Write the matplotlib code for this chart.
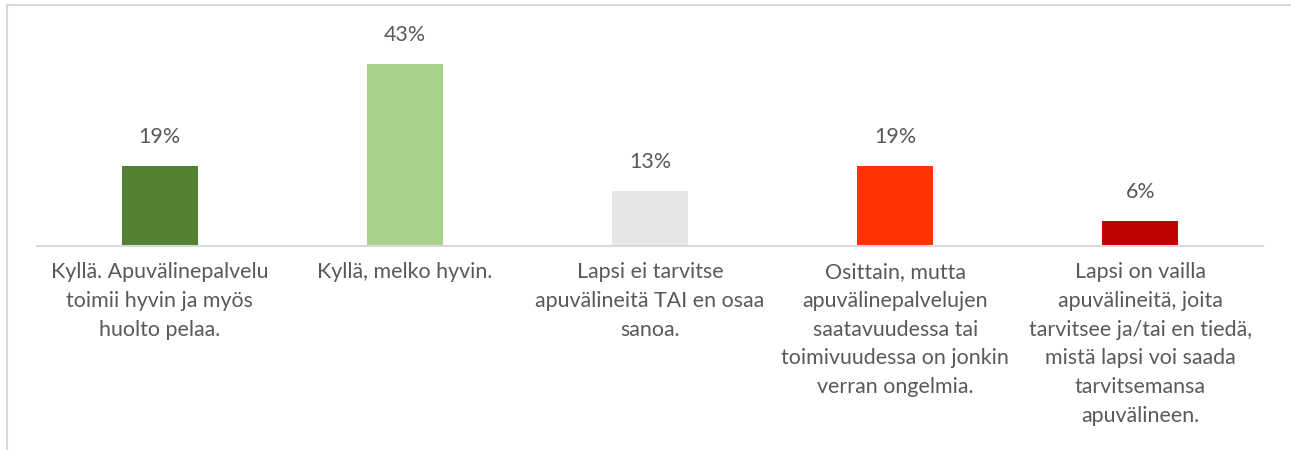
import matplotlib.pyplot as plt
from matplotlib.lines import Line2D

# data
kategoriat = [
    'Kyllä. Apuvälinepalvelu\ntoimii hyvin ja myös\nhuolto pelaa.',
    'Kyllä, melko hyvin.',
    'Lapsi ei tarvitse\napuvälineitä TAI en osaa\nsanoa.',
    'Osittain, mutta\napuvälinepalvelujen\nsaatavuudessa tai\ntoimivuudessa on jonkin\nverran ongelmia.',
    'Lapsi on vailla\napuvälineitä, joita\ntarvitsee ja/tai en tiedä,\nmistä lapsi voi saada\ntarvitsemansa\napuvälineen.',
]
osuudet = [19, 43, 13, 19, 6]
varit = ['#548235', '#A9D18E', '#E7E6E6', '#FF3300', '#C00000']

plt.rcParams['font.family'] = ['Lato', 'DejaVu Sans']
tekstivari = '#595959'

fig = plt.figure(figsize=(12.91, 4.5), dpi=100)
ax = fig.add_axes([37 / 1291, (450 - 246) / 450, 1226 / 1291, 211.5 / 450])

x = range(len(osuudet))
ax.bar(x, osuudet, width=0.31, color=varit)
ax.set_xlim(-0.5, len(osuudet) - 0.5)
ax.set_ylim(0, 50)

for i, v in zip(x, osuudet):
    ax.text(i, v + 4.5, f'{v}%', ha='center', va='bottom', fontsize=15.4,
            color=tekstivari, clip_on=False)

for i, teksti in zip(x, kategoriat):
    ax.text(i, -3.8, teksti, ha='center', va='top', fontsize=15.4,
            color=tekstivari, linespacing=1.55, clip_on=False)

ax.set_xticks([])
ax.set_yticks([])
for side in ['top', 'right', 'left']:
    ax.spines[side].set_visible(False)
ax.spines['bottom'].set_color('#D9D9D9')
ax.spines['bottom'].set_linewidth(1.5)

# kehys (vain ylä- ja vasen reuna näkyvät)
yla = (450 - 5) / 450
vasen = 7 / 1291
fig.add_artist(Line2D([vasen, 1.01], [yla, yla], transform=fig.transFigure,
                      color='#D9D9D9', linewidth=1.5))
fig.add_artist(Line2D([vasen, vasen], [-0.01, yla], transform=fig.transFigure,
                      color='#D9D9D9', linewidth=1.5))

fig.savefig('out.png', dpi=100)
